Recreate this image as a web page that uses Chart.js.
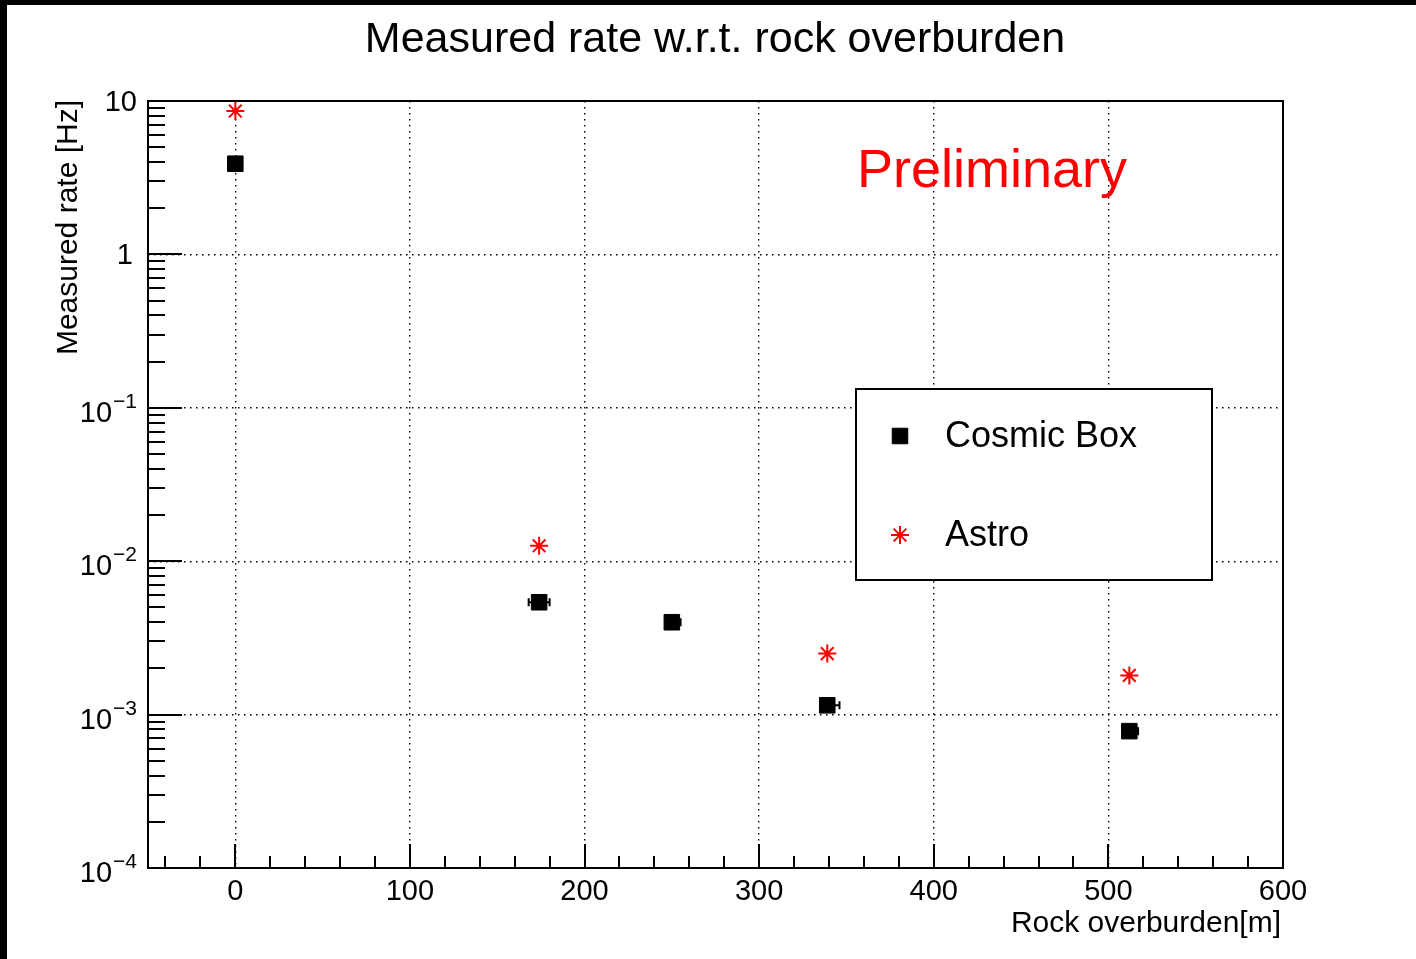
<!DOCTYPE html>
<html>
<head>
<meta charset="utf-8">
<title>Measured rate w.r.t. rock overburden</title>
<script src="https://cdn.jsdelivr.net/npm/chart.js@4/dist/chart.umd.min.js"></script>
<style>
  html, body { margin: 0; padding: 0; background: #fff; }
  #wrap { width: 1416px; height: 959px; }
</style>
</head>
<body>
<div id="wrap"><canvas id="rateChart" width="1416" height="959"></canvas></div>
<script>
// overburden [m] and measured rates [Hz]
const cosmicDepth = [0, 174, 250, 339, 512];
const cosmicRate = [3.9, 0.0054, 0.0040, 0.00115, 0.00078];
const cosmicDepthErrLow = [0, 6, 0, 0, 0];
const cosmicDepthErrHigh = [0, 6, 5, 7, 5];

const astroDepth = [0, 174, 339, 512];
const astroRate = [8.6, 0.0126, 0.0025, 0.0018];

const xTickValues = [0, 100, 200, 300, 400, 500, 600];
const yDecades = [-4, -3, -2, -1, 0, 1];

const FONT = '"Liberation Sans", Arial, Helvetica, sans-serif';

(function() {
  // horizontal error bars with end caps, drawn under the markers
  const errorBarPlugin = {
    id: 'xErrors',
    beforeDatasetsDraw(chart) {
      const { ctx, scales: { x, y } } = chart;
      ctx.save();
      ctx.strokeStyle = '#000';
      ctx.lineWidth = 2;
      cosmicDepth.forEach((d, i) => {
        const py = y.getPixelForValue(cosmicRate[i]);
        const lo = x.getPixelForValue(d - cosmicDepthErrLow[i]);
        const hi = x.getPixelForValue(d + cosmicDepthErrHigh[i]);
        ctx.beginPath();
        ctx.moveTo(lo, py);
        ctx.lineTo(hi, py);
        if (cosmicDepthErrLow[i] > 0) { ctx.moveTo(lo, py - 4); ctx.lineTo(lo, py + 4); }
        if (cosmicDepthErrHigh[i] > 0) { ctx.moveTo(hi, py - 4); ctx.lineTo(hi, py + 4); }
        ctx.stroke();
      });
      ctx.restore();
    }
  };

  // frame, inward ticks, labels, legend box
  const rootStylePlugin = {
    id: 'rootStyle',
    beforeDraw(chart) {
      const { ctx, width, height } = chart;
      ctx.save();
      ctx.fillStyle = '#fff';
      ctx.fillRect(0, 0, width, height);
      ctx.fillStyle = '#000';
      ctx.fillRect(0, 0, width, 5);
      ctx.fillRect(0, 0, 7, height);
      ctx.restore();
    },
    afterDraw(chart) {
      const { ctx, chartArea: a, scales: { x, y } } = chart;
      ctx.save();

      // frame
      ctx.strokeStyle = '#000';
      ctx.lineWidth = 2;
      ctx.strokeRect(a.left, a.top, a.right - a.left, a.bottom - a.top);

      // x ticks
      ctx.beginPath();
      for (let v = -40; v <= 600; v += 20) {
        const px = Math.round(x.getPixelForValue(v));
        const len = v % 100 === 0 ? 24 : 12;
        ctx.moveTo(px, a.bottom);
        ctx.lineTo(px, a.bottom - len);
      }
      // y ticks (log)
      for (let e = -4; e <= 0; e++) {
        for (let m = 1; m <= 9; m++) {
          const py = Math.round(y.getPixelForValue(m * Math.pow(10, e)));
          const len = m === 1 ? 34 : 17;
          ctx.moveTo(a.left, py);
          ctx.lineTo(a.left + len, py);
        }
      }
      ctx.stroke();

      ctx.fillStyle = '#000';
      // x tick labels
      ctx.font = '29px ' + FONT;
      ctx.textAlign = 'center';
      ctx.textBaseline = 'alphabetic';
      xTickValues.forEach(v => {
        ctx.fillText(String(v), x.getPixelForValue(v), 900);
      });

      // y tick labels
      yDecades.forEach(e => {
        const py = y.getPixelForValue(Math.pow(10, e));
        const rightX = 137;
        ctx.textAlign = 'right';
        if (e === 0 || e === 1) {
          ctx.font = '29px ' + FONT;
          ctx.fillText(e === 0 ? '1' : '10', e === 0 ? rightX - 4 : rightX, py + 10);
        } else {
          const exp = '\u2212' + Math.abs(e);
          ctx.font = '21px ' + FONT;
          ctx.fillText(exp, rightX, py);
          const w = ctx.measureText(exp).width;
          ctx.font = '29px ' + FONT;
          ctx.fillText('10', rightX - w - 1, py + 14);
        }
      });

      // axis titles
      ctx.font = '30px ' + FONT;
      ctx.textAlign = 'right';
      ctx.fillText('Rock overburden[m]', 1281, 932);
      ctx.save();
      ctx.translate(77, 100);
      ctx.rotate(-Math.PI / 2);
      ctx.fillText('Measured rate [Hz]', 0, 0);
      ctx.restore();

      // title
      ctx.font = '43px ' + FONT;
      ctx.textAlign = 'center';
      ctx.fillText('Measured rate w.r.t. rock overburden', 715, 52);

      // preliminary tag
      ctx.fillStyle = '#ff0000';
      ctx.font = '54px ' + FONT;
      ctx.textAlign = 'left';
      ctx.fillText('Preliminary', 857, 187);

      // legend
      ctx.fillStyle = '#fff';
      ctx.fillRect(856, 389, 356, 191);
      ctx.strokeStyle = '#000';
      ctx.lineWidth = 2;
      ctx.strokeRect(856, 389, 356, 191);
      const rows = [436, 535];
      chart.data.datasets.forEach((ds, i) => {
        ctx.save();
        ctx.fillStyle = ds.backgroundColor;
        ctx.strokeStyle = ds.borderColor;
        ctx.lineWidth = ds.borderWidth;
        Chart.helpers.drawPoint(ctx, {
          pointStyle: ds.pointStyle,
          radius: ds.pointRadius,
          borderWidth: ds.borderWidth
        }, 900, rows[i]);
        ctx.restore();
        ctx.fillStyle = '#000';
        ctx.font = '36px ' + FONT;
        ctx.textAlign = 'left';
        ctx.textBaseline = 'middle';
        ctx.fillText(ds.label, 945, rows[i] + 1);
        ctx.textBaseline = 'alphabetic';
      });

      ctx.restore();
    }
  };

  const canvas = document.getElementById('rateChart');
  const ctx = canvas.getContext('2d');
  new Chart(ctx, {
    type: 'scatter',
    data: {
      datasets: [{
        label: 'Cosmic Box',
        data: cosmicDepth.map((d, i) => ({ x: d, y: cosmicRate[i] })),
        pointStyle: 'rect',
        pointRadius: 11,
        backgroundColor: '#000',
        borderColor: '#000',
        borderWidth: 1
      }, {
        label: 'Astro',
        data: astroDepth.map((d, i) => ({ x: d, y: astroRate[i] })),
        pointStyle: 'star',
        pointRadius: 9,
        backgroundColor: '#ff0000',
        borderColor: '#ff0000',
        borderWidth: 2
      }]
    },
    options: {
      responsive: false,
      animation: false,
      devicePixelRatio: 1,
      layout: { padding: { left: 148, top: 101, right: 133, bottom: 91 } },
      plugins: { legend: { display: false }, tooltip: { enabled: false }, title: { display: false } },
      scales: {
        x: {
          type: 'linear',
          min: -50,
          max: 600,
          afterBuildTicks: s => { s.ticks = xTickValues.map(v => ({ value: v })); },
          ticks: { display: false },
          grid: { color: '#000', lineWidth: 1.4, drawTicks: false },
          border: { display: false, dash: [1.5, 4.5] }
        },
        y: {
          type: 'logarithmic',
          min: 1e-4,
          max: 10,
          afterBuildTicks: s => { s.ticks = yDecades.map(e => ({ value: Math.pow(10, e), major: true })); },
          ticks: { display: false },
          grid: { color: '#000', lineWidth: 1.4, drawTicks: false },
          border: { display: false, dash: [1.5, 4.5] }
        }
      }
    },
    plugins: [errorBarPlugin, rootStylePlugin]
  });
})();
</script>
</body>
</html>
